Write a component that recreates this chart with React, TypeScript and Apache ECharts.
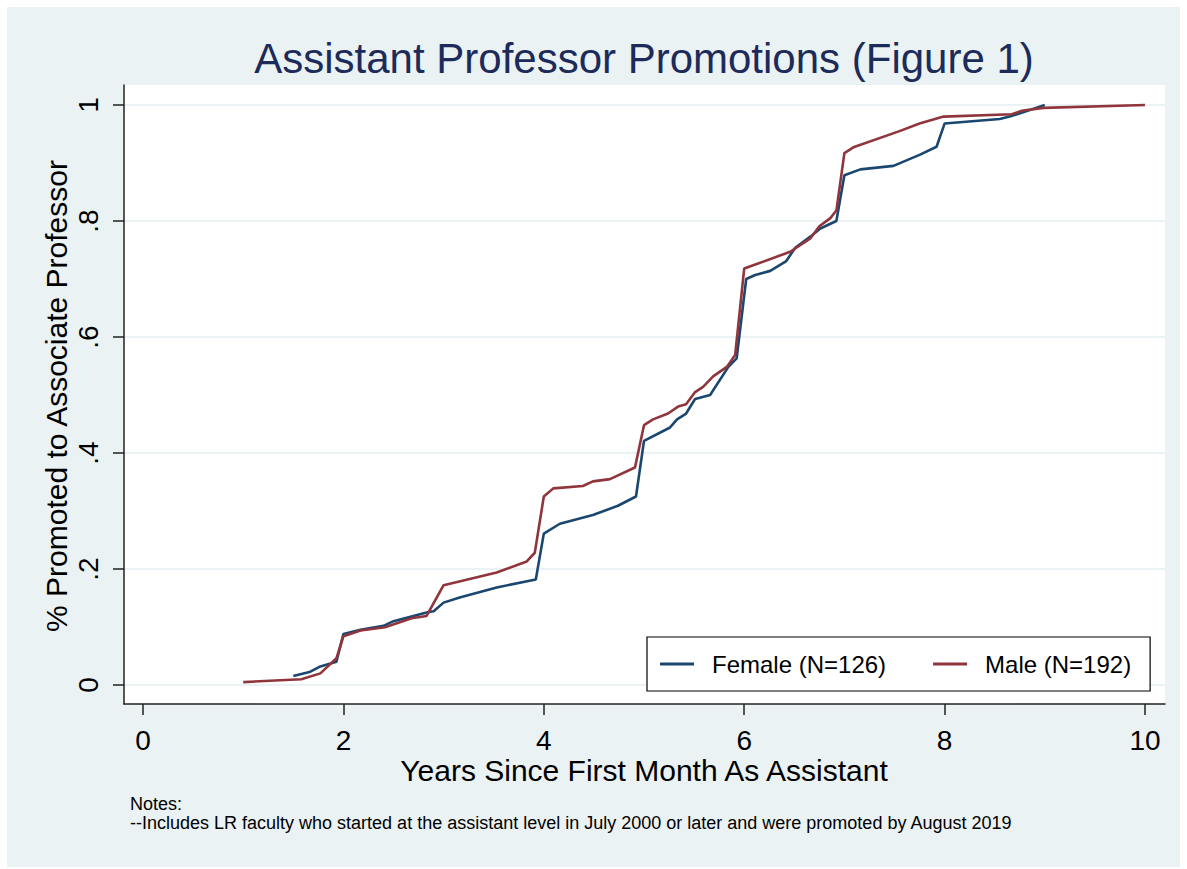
import React, { useEffect, useRef } from "react";
import * as echarts from "echarts";

const TITLE = "Assistant Professor Promotions (Figure 1)";
const X_TITLE = "Years Since First Month As Assistant";
const Y_TITLE = "% Promoted to Associate Professor";
const NOTES = [
  "Notes:",
  "--Includes LR faculty who started at the assistant level in July 2000 or later and were promoted by August 2019",
];

const xTicks = [0, 2, 4, 6, 8, 10];
const yTicks = [0, 0.2, 0.4, 0.6, 0.8, 1];

const femaleName = "Female (N=126)";
const femaleData: [number, number][] = [
  [1.5, 0.0155], [1.67, 0.023], [1.77, 0.032], [1.93, 0.04], [2.0, 0.088],
  [2.17, 0.095], [2.4, 0.102], [2.5, 0.11], [2.83, 0.125], [2.9, 0.127],
  [3.0, 0.142], [3.16, 0.151], [3.53, 0.168], [3.92, 0.182], [4.0, 0.261],
  [4.16, 0.278], [4.49, 0.293], [4.74, 0.309], [4.92, 0.325], [5.0, 0.421],
  [5.26, 0.444], [5.33, 0.458], [5.42, 0.468], [5.51, 0.493], [5.66, 0.5],
  [5.84, 0.548], [5.925, 0.563], [6.02, 0.7], [6.11, 0.707], [6.26, 0.714],
  [6.42, 0.731], [6.51, 0.754], [6.66, 0.773], [6.76, 0.787], [6.92, 0.8],
  [7.0, 0.879], [7.16, 0.889], [7.49, 0.895], [7.75, 0.914], [7.92, 0.928],
  [8.0, 0.968], [8.55, 0.976], [8.65, 0.98], [9.0, 1.0],
];

const maleName = "Male (N=192)";
const maleData: [number, number][] = [
  [1.0, 0.005], [1.58, 0.01], [1.77, 0.02], [1.93, 0.046], [2.0, 0.084],
  [2.17, 0.094], [2.415, 0.0995], [2.68, 0.115], [2.83, 0.119], [3.0, 0.172],
  [3.53, 0.194], [3.83, 0.213], [3.91, 0.228], [4.0, 0.325], [4.095, 0.339],
  [4.39, 0.343], [4.49, 0.351], [4.66, 0.355], [4.91, 0.375], [5.0, 0.448],
  [5.09, 0.458], [5.24, 0.468], [5.34, 0.48], [5.42, 0.484], [5.51, 0.505],
  [5.59, 0.514], [5.69, 0.532], [5.83, 0.549], [5.91, 0.569], [6.0, 0.718],
  [6.46, 0.747], [6.66, 0.77], [6.75, 0.791], [6.86, 0.805], [6.92, 0.818],
  [7.0, 0.917], [7.09, 0.927], [7.55, 0.955], [7.75, 0.968], [7.99, 0.98],
  [8.67, 0.984], [8.77, 0.99], [8.99, 0.995], [10.0, 1.0],
];

const FONT = "'Liberation Sans', Arial, Helvetica, sans-serif";
const BG = "#EAF2F3";
const NAVY = "#1A476F";
const MAROON = "#90353B";
const TITLE_COLOR = "#1C2B5A";

export default function App() {
  const ref = useRef<HTMLDivElement>(null);

  useEffect(() => {
    if (!ref.current) return;
    const chart = echarts.init(ref.current, undefined, { renderer: "svg" });
    const option: any = {
      animation: false,
      backgroundColor: "#ffffff",
      textStyle: { fontFamily: FONT },
      graphic: [
        {
          type: "rect",
          z: -10,
          silent: true,
          shape: { x: 7, y: 7, width: 1173, height: 860 },
          style: { fill: BG },
        },
        {
          type: "text",
          x: 644,
          y: 58,
          style: {
            text: TITLE,
            font: `42px ${FONT}`,
            fill: TITLE_COLOR,
            align: "center",
            verticalAlign: "middle",
          },
        },
        {
          type: "text",
          x: 644,
          y: 770.5,
          style: {
            text: X_TITLE,
            font: `30px ${FONT}`,
            lineHeight: 30,
            fill: "#000",
            align: "center",
            verticalAlign: "middle",
          },
        },
        {
          type: "text",
          x: 56,
          y: 396,
          rotation: Math.PI / 2,
          style: {
            text: Y_TITLE,
            font: `30px ${FONT}`,
            fill: "#000",
            align: "center",
            verticalAlign: "middle",
          },
        },
        {
          type: "text",
          x: 130,
          y: 804,
          style: {
            text: NOTES[0],
            font: `18px ${FONT}`,
            lineHeight: 18,
            fill: "#000",
            align: "left",
            verticalAlign: "middle",
          },
        },
        {
          type: "text",
          x: 130,
          y: 823,
          style: {
            text: NOTES[1],
            font: `18px ${FONT}`,
            lineHeight: 18,
            fill: "#000",
            align: "left",
            verticalAlign: "middle",
          },
        },
      ],
      grid: {
        left: 124,
        right: 22,
        top: 85,
        bottom: 165,
        show: true,
        backgroundColor: "#ffffff",
        borderWidth: 0,
      },
      legend: {
        left: 647,
        top: 637,
        orient: "horizontal",
        backgroundColor: "#ffffff",
        borderColor: "#000000",
        borderWidth: 1.2,
        borderRadius: 0,
        padding: [15, 19, 15, 13],
        icon: "rect",
        itemWidth: 34,
        itemHeight: 3,
        itemGap: 47,
        textStyle: {
          fontFamily: FONT,
          fontSize: 24,
          lineHeight: 24,
          color: "#000",
          padding: [0, 0, 0, 13],
        },
        data: [femaleName, maleName],
      },
      xAxis: {
        type: "value",
        min: -0.19,
        max: 10.2,
        axisLine: { show: true, onZero: false, lineStyle: { color: "#222", width: 1.5 } },
        axisTick: {
          show: true,
          customValues: xTicks,
          length: 11,
          lineStyle: { color: "#222", width: 1.5 },
        },
        axisLabel: {
          customValues: xTicks,
          fontSize: 28,
          lineHeight: 28,
          fontFamily: FONT,
          color: "#000",
          margin: 22.5,
          formatter: (v: number) => String(v),
        },
        splitLine: { show: false },
      },
      yAxis: {
        type: "value",
        min: -0.0328,
        max: 1.0345,
        axisLine: { show: true, onZero: false, lineStyle: { color: "#222", width: 1.5 } },
        axisTick: {
          show: true,
          customValues: yTicks,
          length: 11,
          lineStyle: { color: "#222", width: 1.5 },
        },
        axisLabel: {
          customValues: yTicks,
          fontSize: 28,
          fontFamily: FONT,
          color: "#000",
          rotate: 90,
          margin: 22,
          formatter: (v: number) => {
            if (v === 0) return "0";
            if (v === 1) return "1";
            return "." + String(Math.round(v * 10));
          },
        },
        splitLine: { show: true, lineStyle: { color: BG, width: 2 } },
      },
      series: [
        {
          name: femaleName,
          type: "line",
          data: femaleData,
          symbol: "none",
          lineStyle: { color: NAVY, width: 2.6 },
          itemStyle: { color: NAVY },
          z: 3,
        },
        {
          name: maleName,
          type: "line",
          data: maleData,
          symbol: "none",
          lineStyle: { color: MAROON, width: 2.6 },
          itemStyle: { color: MAROON },
          z: 4,
        },
      ],
    };
    chart.setOption(option);
    return () => {
      chart.dispose();
    };
  }, []);

  return (
    <div
      ref={ref}
      style={{ position: "absolute", left: 0, top: 0, width: 1187, height: 869 }}
    />
  );
}
